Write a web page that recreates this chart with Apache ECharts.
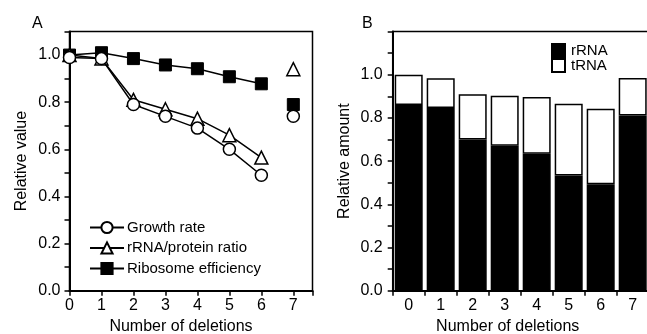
<!DOCTYPE html>
<html>
<head>
<meta charset="utf-8">
<script src="https://cdn.jsdelivr.net/npm/echarts@6/dist/echarts.min.js"></script>
<style>
html,body{margin:0;padding:0;background:#fff;}
#c{width:647px;height:334px;}
</style>
</head>
<body>
<div id="c"></div>
<script>
// Panel A data
var deletions = [0, 1, 2, 3, 4, 5, 6, 7];
var growthRate = [0.99, 0.985, 0.79, 0.74, 0.69, 0.60, 0.49, 0.74];
var rRNAProteinRatio = [1.0, 0.985, 0.81, 0.77, 0.73, 0.66, 0.565, 0.94];
var ribosomeEfficiency = [1.0, 1.01, 0.985, 0.958, 0.942, 0.908, 0.878, 0.79];
// Panel B data
var categoriesB = ['0', '1', '2', '3', '4', '5', '6', '7'];
var rRNA = [0.86, 0.846, 0.70, 0.671, 0.634, 0.533, 0.493, 0.811];
var tRNA = [0.14, 0.137, 0.21, 0.232, 0.263, 0.333, 0.349, 0.174];

var FONT = "'Liberation Sans', Arial, sans-serif";
var chart = echarts.init(document.getElementById('c'), null, {renderer: 'canvas'});

function pairs(arr, from, to) {
  var out = [];
  for (var i = from; i <= to; i++) out.push([deletions[i], arr[i]]);
  return out;
}
function yFmt(v) {
  var k = Math.round(v * 10);
  return (k % 2 === 0 && k <= 10) ? (k / 10).toFixed(1) : '';
}
var axisLine = {show: true, lineStyle: {color: '#000', width: 2}};
var axisTick = {show: true, inside: false, length: 5, lineStyle: {color: '#000', width: 1.5}};
var labelStyle = {color: '#000', fontFamily: FONT, fontSize: 16};
var nameStyle = {color: '#000', fontFamily: FONT, fontSize: 16};

var option = {
  backgroundColor: '#fff',
  animation: false,
  title: [
    {text: 'A', left: 27, top: 11, textStyle: {fontFamily: FONT, fontSize: 16, fontWeight: 'normal', color: '#000'}},
    {text: 'B', left: 357, top: 11, textStyle: {fontFamily: FONT, fontSize: 16, fontWeight: 'normal', color: '#000'}}
  ],
  grid: [
    {left: 69.5, top: 31.5, width: 243, height: 259.2, containLabel: false, outerBoundsMode: 'none',
     show: true, borderColor: '#000', borderWidth: 1.5, backgroundColor: 'transparent'},
    {left: 392.7, top: 31.5, width: 256, height: 259.2, containLabel: false, outerBoundsMode: 'none',
     show: true, borderColor: '#000', borderWidth: 1.5, backgroundColor: 'transparent'}
  ],
  legend: [
    {
      data: ['Growth rate', 'rRNA/protein ratio', 'Ribosome efficiency'],
      orient: 'vertical', left: 84, top: 215, itemWidth: 34, itemHeight: 14, itemGap: 5.5,
      textStyle: {fontFamily: FONT, fontSize: 15, color: '#000', padding: [0, 0, 0, -2]}
    },
    {
      data: ['rRNA', 'tRNA'],
      orient: 'vertical', left: 546, top: 38, itemWidth: 13, itemHeight: 13, itemGap: 0,
      icon: 'rect',
      textStyle: {fontFamily: FONT, fontSize: 15, color: '#000', padding: [0, 0, 0, 1]}
    }
  ],
  xAxis: [
    {
      type: 'value', gridIndex: 0, min: 0, max: 7.6, interval: 1,
      axisLine: axisLine, axisTick: axisTick, splitLine: {show: false},
      axisLabel: Object.assign({margin: 7, formatter: function (v) { return Number.isInteger(v) ? String(v) : ''; }}, labelStyle),
      name: 'Number of deletions', nameLocation: 'middle', nameGap: 26,
      nameTextStyle: Object.assign({padding: [0, 20, 0, 0]}, nameStyle)
    },
    {
      type: 'category', gridIndex: 1, data: categoriesB, boundaryGap: true,
      axisLine: axisLine, axisTick: {show: true, inside: false, length: 5, alignWithLabel: false, lineStyle: {color: '#000', width: 1.5}},
      splitLine: {show: false},
      axisLabel: Object.assign({margin: 7, interval: 0}, labelStyle),
      name: 'Number of deletions', nameLocation: 'middle', nameGap: 26,
      nameTextStyle: Object.assign({padding: [0, 26, 0, 0]}, nameStyle)
    }
  ],
  yAxis: [
    {
      type: 'value', gridIndex: 0, min: 0, max: 1.1, interval: 0.1,
      axisLine: axisLine, axisTick: axisTick, splitLine: {show: false},
      axisLabel: Object.assign({margin: 9, formatter: yFmt}, labelStyle),
      name: 'Relative value', nameLocation: 'middle', nameGap: 40, nameTextStyle: nameStyle
    },
    {
      type: 'value', gridIndex: 1, min: 0, max: 1.2, interval: 0.1,
      axisLine: axisLine, axisTick: axisTick, splitLine: {show: false},
      axisLabel: Object.assign({margin: 10, formatter: yFmt}, labelStyle),
      name: 'Relative amount', nameLocation: 'middle', nameGap: 40, nameTextStyle: nameStyle
    }
  ],
  series: [
    {
      name: 'Ribosome efficiency', type: 'line', xAxisIndex: 0, yAxisIndex: 0, z: 2,
      data: pairs(ribosomeEfficiency, 0, 6), symbol: 'rect', symbolSize: 12,
      lineStyle: {color: '#000', width: 1.5}, itemStyle: {color: '#000', borderColor: '#000', borderWidth: 1, opacity: 1}
    },
    {
      name: 'Ribosome efficiency', type: 'scatter', xAxisIndex: 0, yAxisIndex: 0, z: 2,
      data: pairs(ribosomeEfficiency, 7, 7), symbol: 'rect', symbolSize: 12,
      itemStyle: {color: '#000', borderColor: '#000', borderWidth: 1, opacity: 1}
    },
    {
      name: 'rRNA/protein ratio', type: 'line', xAxisIndex: 0, yAxisIndex: 0, z: 3,
      data: pairs(rRNAProteinRatio, 0, 6), symbol: 'triangle', symbolSize: 13,
      lineStyle: {color: '#000', width: 1.5}, itemStyle: {color: '#fff', borderColor: '#000', borderWidth: 1.5, opacity: 1}
    },
    {
      name: 'rRNA/protein ratio', type: 'scatter', xAxisIndex: 0, yAxisIndex: 0, z: 3,
      data: pairs(rRNAProteinRatio, 7, 7), symbol: 'triangle', symbolSize: 13,
      itemStyle: {color: '#fff', borderColor: '#000', borderWidth: 1.5, opacity: 1}
    },
    {
      name: 'Growth rate', type: 'line', xAxisIndex: 0, yAxisIndex: 0, z: 4,
      data: pairs(growthRate, 0, 6), symbol: 'circle', symbolSize: 12,
      lineStyle: {color: '#000', width: 1.5}, itemStyle: {color: '#fff', borderColor: '#000', borderWidth: 1.5, opacity: 1}
    },
    {
      name: 'Growth rate', type: 'scatter', xAxisIndex: 0, yAxisIndex: 0, z: 4,
      data: pairs(growthRate, 7, 7), symbol: 'circle', symbolSize: 12,
      itemStyle: {color: '#fff', borderColor: '#000', borderWidth: 1.5, opacity: 1}
    },
    {
      name: 'rRNA', type: 'bar', xAxisIndex: 1, yAxisIndex: 1, stack: 'rna',
      data: rRNA, barWidth: 28,
      itemStyle: {color: '#000', borderColor: '#000', borderWidth: 1.5}
    },
    {
      name: 'tRNA', type: 'bar', xAxisIndex: 1, yAxisIndex: 1, stack: 'rna',
      data: tRNA, barWidth: 28,
      itemStyle: {color: '#fff', borderColor: '#000', borderWidth: 1.5}
    }
  ]
};
chart.setOption(option);
</script>
</body>
</html>
